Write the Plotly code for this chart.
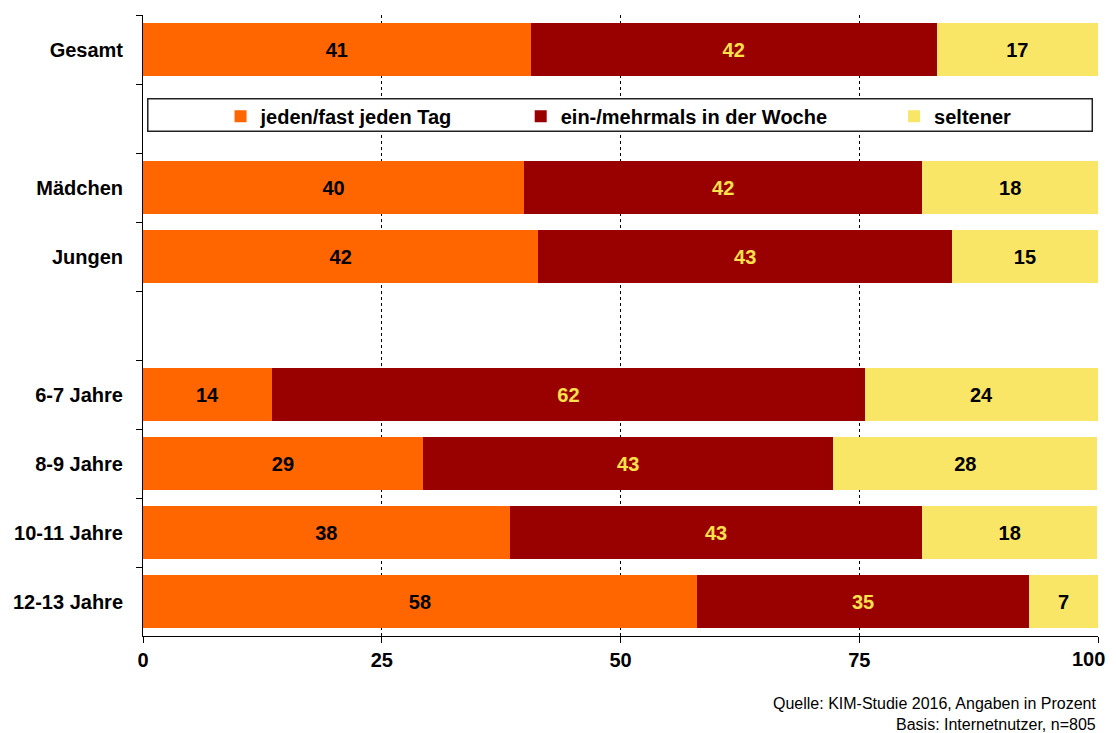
import plotly.graph_objects as go

categories = ["Gesamt", " ", "Mädchen", "Jungen", "  ", "6-7 Jahre", "8-9 Jahre", "10-11 Jahre", "12-13 Jahre"]
series_names = ["jeden/fast jeden Tag", "ein-/mehrmals in der Woche", "seltener"]
daily = [40.6, None, 39.9, 41.4, None, 13.5, 29.3, 38.4, 58.0]
weekly = [42.5, None, 41.7, 43.3, None, 62.1, 43.0, 43.2, 34.8]
rarer = [16.9, None, 18.4, 15.3, None, 24.4, 27.6, 18.3, 7.2]
daily_lbl = ["41", "", "40", "42", "", "14", "29", "38", "58"]
weekly_lbl = ["42", "", "42", "43", "", "62", "43", "43", "35"]
rarer_lbl = ["17", "", "18", "15", "", "24", "28", "18", "7"]
x_ticks = [0, 25, 50, 75, 100]
x_ticktext = ["0", "25", "50", "75", "100"]

FONT = "Liberation Sans, Arial, sans-serif"
colors = ["#FF6600", "#990000", "#FAE666"]
text_colors = ["#000000", "#FFE14D", "#000000"]
vals = [daily, weekly, rarer]
lbls = [daily_lbl, weekly_lbl, rarer_lbl]
legends = ["legend", "legend2", "legend3"]

fig = go.Figure()
for i in range(3):
    fig.add_trace(go.Bar(
        y=categories, x=vals[i], orientation="h", name=series_names[i],
        marker=dict(color=colors[i], line=dict(width=0)),
        text=lbls[i], textposition="inside", insidetextanchor="middle",
        textangle=0, constraintext="none",
        textfont=dict(family=FONT, size=20, color=text_colors[i], weight="bold"),
        legend=legends[i], showlegend=True, hoverinfo="skip",
    ))

tickfont = dict(family=FONT, size=20, color="#000", weight="bold")
leg_common = dict(orientation="h", yanchor="middle", y=0.837, xanchor="left",
                  bgcolor="rgba(0,0,0,0)", borderwidth=0,
                  font=dict(family=FONT, size=20, color="#000", weight="bold"))

# last tick label drawn as annotation so it stays inside the visible page
shown_ticktext = x_ticktext[:-1] + [""]
annotations = [
    dict(text=x_ticktext[-1], xref="x", yref="paper", x=x_ticks[-1], y=0,
         xanchor="right", yanchor="middle", yshift=-23, xshift=9, showarrow=False,
         font=tickfont),
    dict(text="Quelle: KIM-Studie 2016, Angaben in Prozent", xref="paper", yref="paper",
         x=1.0, y=-0.109, xanchor="right", yanchor="middle", showarrow=False,
         font=dict(family=FONT, size=16, color="#000")),
    dict(text="Basis: Internetnutzer, n=805", xref="paper", yref="paper",
         x=1.0, y=-0.143, xanchor="right", yanchor="middle", showarrow=False,
         font=dict(family=FONT, size=16, color="#000")),
]

fig.update_layout(
    width=1108, height=725,
    margin=dict(l=135, r=18, t=7, b=97, autoexpand=False),
    paper_bgcolor="white", plot_bgcolor="white",
    barmode="stack", bargap=0.22,
    showlegend=True,
    font=dict(family=FONT, color="#000"),
    legend=dict(x=0.0812, **leg_common),
    legend2=dict(x=0.3955, **leg_common),
    legend3=dict(x=0.7865, **leg_common),
    xaxis=dict(range=[0, 100], tickvals=x_ticks, ticktext=shown_ticktext,
               showgrid=True, gridcolor="#000",
               griddash="3px,3px", gridwidth=1, zeroline=False,
               showline=True, linecolor="#000", linewidth=1,
               ticks="outside", ticklen=6, tickcolor="#000", automargin=False,
               tickfont=tickfont),
    yaxis=dict(type="category", autorange="reversed", categoryorder="array",
               categoryarray=categories, showgrid=False, zeroline=False,
               showline=True, linecolor="#000", linewidth=1,
               ticks="outside", ticklen=6, tickcolor="#000", tickson="boundaries",
               ticklabelstandoff=15, automargin=False,
               tickfont=tickfont),
    shapes=[dict(type="rect", xref="paper", yref="paper", x0=0.005, x1=0.994,
                 y0=0.813, y1=0.865, line=dict(color="#222", width=1.5),
                 fillcolor="white", layer="above")],
    annotations=annotations,
)
fig.write_html("out.html")
